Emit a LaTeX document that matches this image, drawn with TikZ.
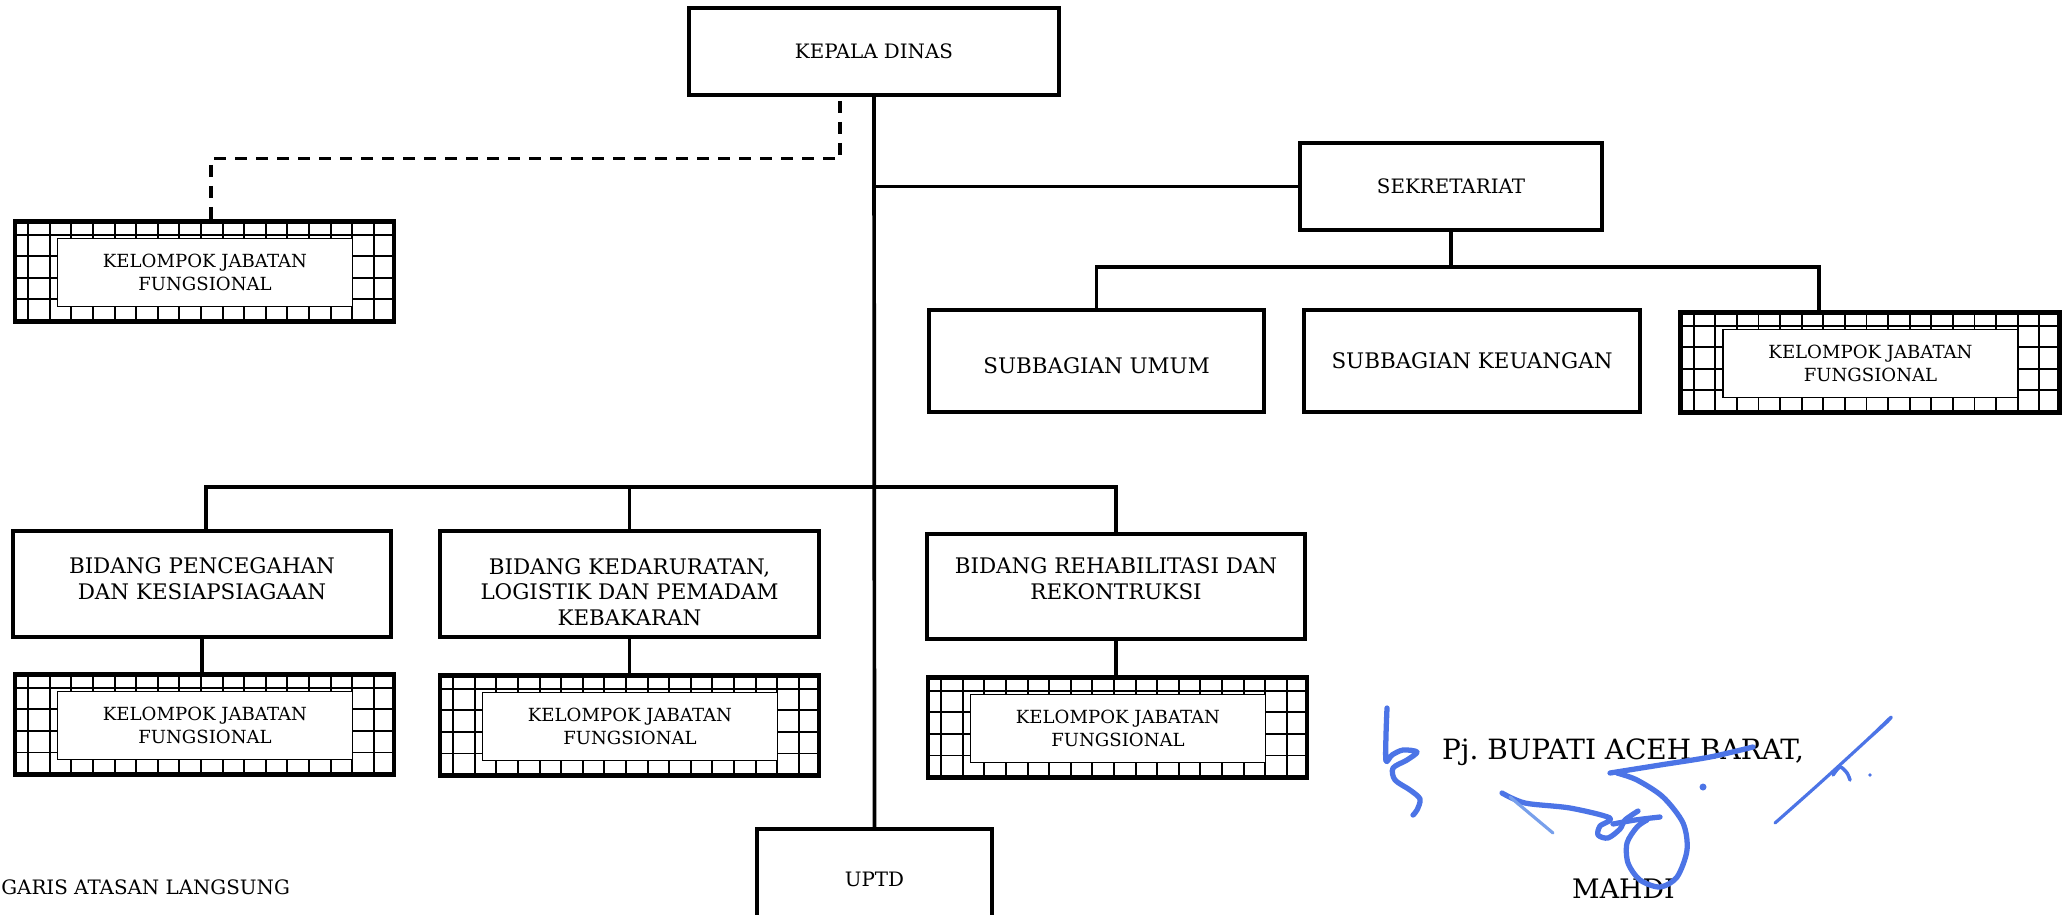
\documentclass[tikz,border=0pt]{standalone}
\usepackage{fontspec}
\setmainfont{DejaVu Serif}
\usetikzlibrary{positioning}
\definecolor{signblue}{RGB}{76,116,230}
\definecolor{signlight}{RGB}{120,160,235}
\newcommand{\pxl}{0.02cm}
\tikzset{
  unitbox/.style={draw, line width=2.2pt, align=center, inner sep=0pt, font=\fontsize{12.2}{14.6}\selectfont},
  smallunit/.style={unitbox, font=\fontsize{11.3}{14}\selectfont},
  boxtext/.style={align=center, inner sep=0pt, font=\fontsize{12.2}{14.6}\selectfont},
  conn/.style={line width=2.1pt},
  dashline/.style={line width=2pt, dash pattern=on 0.24cm off 0.18cm},
  kjfframe/.style={draw, line width=2.6pt},
  gridline/.style={line width=1.1pt},
  kjfinner/.style={draw, fill=white, line width=0.8pt, align=center, minimum width=295*\pxl, minimum height=68*\pxl, inner sep=0pt, font=\fontsize{10.3}{12.7}\selectfont},
  sign/.style={draw=signblue, line width=3pt, line cap=round, line join=round},
}
\newcommand{\kjf}[3]{%
  \node[minimum width=378*\pxl, minimum height=99*\pxl, inner sep=0pt] (#1) at (#2,#3) {};
  \begin{scope}
    \clip (#1.south west) rectangle (#1.north east);
    \foreach \i in {0,...,17}
      \draw[gridline] ([xshift={(13+21.6*\i)*\pxl}]#1.north west) -- ([xshift={(13+21.6*\i)*\pxl}]#1.south west);
    \foreach \i in {0,...,4}
      \draw[gridline] ([yshift={-(13+21.6*\i)*\pxl}]#1.north west) -- ([yshift={-(13+21.6*\i)*\pxl}]#1.north east);
  \end{scope}
  \draw[kjfframe] (#1.south west) rectangle (#1.north east);
  \node[kjfinner] (#1-in) at (#2+0.5,#3+1) {KELOMPOK JABATAN\\FUNGSIONAL};
}

\begin{document}
\begin{tikzpicture}[x=0.02cm,y=-0.02cm]
\useasboundingbox (0,0) rectangle (2071,914);
% units
\node[smallunit, minimum width=370*\pxl, minimum height=87*\pxl] (kepala) at (874,51.5) {KEPALA DINAS};
\node[smallunit, minimum width=302*\pxl, minimum height=87*\pxl] (sekretariat) at (1451,186.5) {SEKRETARIAT};
\node[unitbox, minimum width=335*\pxl, minimum height=102*\pxl, label={[boxtext, yshift=-5*\pxl]center:SUBBAGIAN UMUM}] (umum) at (1096.5,361) {};
\node[unitbox, minimum width=336*\pxl, minimum height=102*\pxl] (keuangan) at (1472,361) {SUBBAGIAN KEUANGAN};
\node[unitbox, minimum width=378*\pxl, minimum height=106*\pxl, label={[boxtext, yshift=5*\pxl]center:BIDANG PENCEGAHAN\\DAN KESIAPSIAGAAN}] (pencegahan) at (202,584) {};
\node[unitbox, minimum width=379*\pxl, minimum height=106*\pxl, label={[boxtext, yshift=-8*\pxl]center:BIDANG KEDARURATAN,\\LOGISTIK DAN PEMADAM\\KEBAKARAN}] (kedaruratan) at (629.5,584) {};
\node[unitbox, minimum width=378*\pxl, minimum height=105*\pxl, label={[boxtext, yshift=8*\pxl]center:BIDANG REHABILITASI DAN\\REKONTRUKSI}] (rehab) at (1116,586.5) {};
\node[smallunit, minimum width=235*\pxl, minimum height=101*\pxl] (uptd) at (874.5,879.5) {UPTD};
\kjf{kjfkd}{204.5}{271.5}
\kjf{kjfsek}{1870}{362.5}
\kjf{kjfpc}{204.5}{724.5}
\kjf{kjfkl}{629.5}{725.5}
\kjf{kjfrh}{1117.5}{727.5}
% lines
\coordinate (bidbar) at (874,487);
\coordinate (subbar) at (1449,267);
\coordinate (kjfsekdrop) at (1819,267);
\draw[conn] (kepala.south) -- (uptd.north);
\draw[conn] (kepala.south |- sekretariat.west) -- (sekretariat.west);
\draw[conn] (sekretariat.south) -- (sekretariat.south |- subbar);
\draw[conn] (umum.north) |- (kjfsekdrop) -- (kjfsekdrop |- kjfsek.north);
\draw[conn] ([xshift=4*\pxl]pencegahan.north) |- (rehab.north |- bidbar) -- (rehab.north);
\draw[conn] (kedaruratan.north |- bidbar) -- (kedaruratan.north);
\foreach \b/\k in {pencegahan/kjfpc,kedaruratan/kjfkl,rehab/kjfrh}{\draw[conn] (\b.south) -- (\b.south |- \k.north);}
\draw[dashline] ([xshift=-34*\pxl,yshift=-4*\pxl]kepala.south) |- ([xshift=6.5*\pxl,yshift=63*\pxl]kjfkd.north) -- ([xshift=6.5*\pxl]kjfkd.north);
% texts
\node[anchor=west, inner sep=0pt, font=\fontsize{11.3}{14}\selectfont] (garis) at (1,887) {GARIS ATASAN LANGSUNG};
\node[inner sep=0pt, font=\fontsize{15.9}{18}\selectfont] (bupati) at (1623,752) {Pj.\ BUPATI ACEH BARAT,};
\node[inner sep=0pt, font=\fontsize{15.3}{18}\selectfont] (mahdi) at (1623.5,889) {MAHDI};
% signature
\draw[sign] plot[smooth] coordinates {(1387,708) (1386,735) (1386,761) (1392,755) (1403,750) (1417,752) (1407,760) (1393,768) (1395,780) (1410,790) (1420,799) (1417,810) (1413,815)};
\draw[sign] plot[smooth] coordinates {(1502,793) (1525,803) (1570,808) (1610,818) (1600,826) (1598,835) (1608,838) (1620,829) (1625,820) (1638,811)};
\draw[sign] plot[smooth] coordinates {(1613,824) (1635,820) (1660,817)};
\draw[sign, draw=signlight, line width=1.8pt] (1510,797) -- (1553,833);
\draw[sign] plot[smooth] coordinates {(1610,773) (1660,765) (1710,757) (1753,747)};
\draw[sign] plot[smooth] coordinates {(1617,773) (1637,780) (1663,797) (1683,823) (1687,850) (1677,877) (1660,887) (1640,880) (1628,863) (1627,843) (1637,827) (1647,820)};
\fill[signblue] (1703,787) circle (3.5);
\draw[sign, line width=1.8pt] plot[smooth] coordinates {(1775,823) (1820,783) (1867,740) (1890,718) (1887,722) (1867,740)};
\draw[sign, line width=2pt] plot[smooth] coordinates {(1833,775) (1840,767) (1847,773) (1850,780)};
\fill[signblue] (1870,775) circle (1.8);
\end{tikzpicture}
\end{document}
